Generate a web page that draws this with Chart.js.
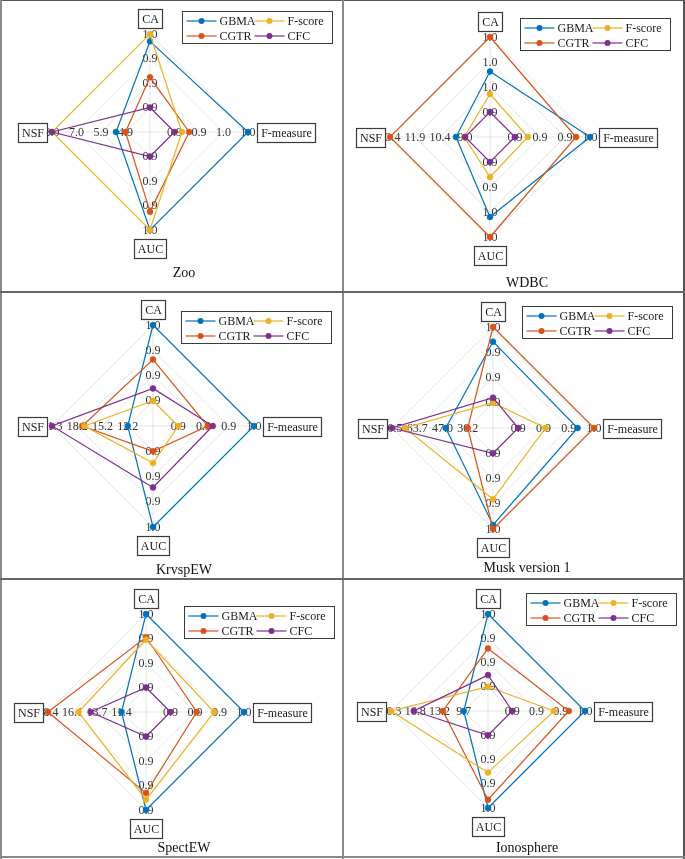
<!DOCTYPE html>
<html><head><meta charset="utf-8">
<script src="https://cdn.jsdelivr.net/npm/chart.js@4.4.1/dist/chart.umd.min.js"></script>
<style>
html,body{margin:0;padding:0;background:#fff;}
#fig{position:relative;width:685px;height:859px;overflow:hidden;background:#fff;}
.cell{position:absolute;}
.ln{position:absolute;z-index:5;}
</style></head><body>
<div id="fig"></div>
<script>
// ---------- data ----------
const categories = ['CA', 'F-measure', 'AUC', 'NSF'];
const methods = ['GBMA', 'CGTR', 'F-score', 'CFC'];
const methodColors = ['#0072BD', '#D95319', '#EDB120', '#7E2F8E'];
const panelTitles = ['Zoo', 'WDBC', 'KrvspEW', 'Musk version 1', 'SpectEW', 'Ionosphere'];

// values per method: [CA, F-measure, AUC, NSF]
const zooValues = [[0.961, 1.00, 0.96, 5.3], [0.917, 0.904, 0.9375, 4.9], [0.97, 0.892, 0.96, 8.0], [0.88, 0.88, 0.87, 8.0]];
const zooLimits = [[0.88, 0.97], [0.88, 1.00], [0.87, 0.96], [4.9, 8.0]];
const zooTicks = [['0.9', '0.9', '0.9', '1.0'], ['0.9', '0.9', '1.0', '1.0'], ['0.9', '0.9', '0.9', '1.0'], ['4.9', '5.9', '7.0', '8.0']];

const wdbcValues = [[0.967, 0.97, 0.966, 9.53], [0.99, 0.957, 0.99, 13.4], [0.952, 0.912, 0.918, 9.05], [0.94, 0.90, 0.90, 9.0]];
const wdbcLimits = [[0.94, 0.99], [0.90, 0.97], [0.90, 0.99], [9.0, 13.4]];
const wdbcTicks = [['0.9', '1.0', '1.0', '1.0'], ['0.9', '0.9', '0.9', '1.0'], ['0.9', '0.9', '1.0', '1.0'], ['9.0', '10.4', '11.9', '13.4']];

const krvspValues = [[0.97, 0.97, 0.97, 12.2], [0.929, 0.915, 0.88, 17.66], [0.88, 0.88, 0.894, 17.4], [0.8947, 0.921, 0.923, 21.3]];
const krvspLimits = [[0.88, 0.97], [0.88, 0.97], [0.88, 0.97], [12.2, 21.3]];
const krvspTicks = [['0.9', '0.9', '0.9', '1.0'], ['0.9', '0.9', '0.9', '1.0'], ['0.9', '0.9', '0.9', '1.0'], ['12.2', '15.2', '18.2', '21.3']];

const muskValues = [[0.9526, 0.9505, 0.9652, 44.8], [0.97, 0.97, 0.97, 30.2], [0.88, 0.9124, 0.9346, 71.95], [0.886, 0.88, 0.88, 80.5]];
const muskLimits = [[0.88, 0.97], [0.88, 0.97], [0.88, 0.97], [30.2, 80.5]];
const muskTicks = [['0.9', '0.9', '0.9', '1.0'], ['0.9', '0.9', '0.9', '1.0'], ['0.9', '0.9', '0.9', '1.0'], ['30.2', '47.0', '63.7', '80.5']];

const spectValues = [[0.97, 0.97, 0.94, 11.4], [0.9415, 0.9121, 0.9216, 18.4], [0.9385, 0.9334, 0.9288, 15.5], [0.88, 0.88, 0.86, 14.34]];
const spectLimits = [[0.88, 0.97], [0.88, 0.97], [0.86, 0.94], [11.4, 18.4]];
const spectTicks = [['0.9', '0.9', '0.9', '1.0'], ['0.9', '0.9', '0.9', '1.0'], ['0.9', '0.9', '0.9', '0.9'], ['11.4', '13.7', '16.1', '18.4']];

const ionoValues = [[0.97, 0.97, 0.97, 9.7], [0.9274, 0.9499, 0.9598, 12.74], [0.88, 0.9316, 0.9262, 20.3], [0.8944, 0.88, 0.88, 16.98]];
const ionoLimits = [[0.88, 0.97], [0.88, 0.97], [0.88, 0.97], [9.7, 20.3]];
const ionoTicks = [['0.9', '0.9', '0.9', '1.0'], ['0.9', '0.9', '0.9', '1.0'], ['0.9', '0.9', '0.9', '1.0'], ['9.7', '13.2', '16.8', '20.3']];

// ---------- layout (not data) ----------
const SERIF = '"Liberation Serif", "Times New Roman", serif';
const panels = [
  {values: zooValues, limits: zooLimits, ticks: zooTicks, cell: [0, 0, 343, 292], c: [150, 132], R: 98, legend: [182, 11], titleY: 273},
  {values: wdbcValues, limits: wdbcLimits, ticks: wdbcTicks, cell: [343, 0, 342, 292], c: [147, 137], R: 100, legend: [177, 18], titleY: 283},
  {values: krvspValues, limits: krvspLimits, ticks: krvspTicks, cell: [0, 292, 343, 287], c: [153, 134], R: 101, legend: [181, 19], titleY: 278},
  {values: muskValues, limits: muskLimits, ticks: muskTicks, cell: [343, 292, 342, 287], c: [150, 136], R: 101, legend: [179, 14], titleY: 276},
  {values: spectValues, limits: spectLimits, ticks: spectTicks, cell: [0, 579, 343, 280], c: [146, 133], R: 98, legend: [184, 27], titleY: 269},
  {values: ionoValues, limits: ionoLimits, ticks: ionoTicks, cell: [343, 579, 342, 280], c: [145, 132], R: 97, legend: [183, 14], titleY: 269}
];
const labelGaps = [6, 9, 9, 5];

function toLevel(v, lim) { return 1 + 3 * (v - lim[0]) / (lim[1] - lim[0]); }

function decorPlugin(p, title) {
  return {
    id: 'spiderDecor',
    beforeDatasetsDraw(chart) {
      const s = chart.scales.r, ctx = chart.ctx;
      ctx.save();
      ctx.font = '12px ' + SERIF;
      ctx.fillStyle = '#333';
      ctx.textAlign = 'center';
      ctx.textBaseline = 'middle';
      categories.forEach((c, ai) => {
        p.ticks[ai].forEach((t, k) => {
          const pos = s.getPointPosition(ai, s.getDistanceFromCenterForValue(k + 1));
          ctx.fillText(t, pos.x, pos.y + 0.5);
        });
      });
      ctx.restore();
    },
    afterDraw(chart) {
      const s = chart.scales.r, ctx = chart.ctx;
      const cx = s.xCenter, cy = s.yCenter, R = s.drawingArea;
      ctx.save();
      // axis label boxes
      ctx.font = '12px ' + SERIF;
      ctx.textAlign = 'center';
      ctx.textBaseline = 'middle';
      categories.forEach((c, ai) => {
        const pos = s.getPointPosition(ai, R + labelGaps[ai]);
        const w = Math.round(ctx.measureText(c).width + 7), h = 19;
        let x, y;
        const dx = pos.x - cx, dy = pos.y - cy;
        if (Math.abs(dx) < 1) { x = pos.x - w / 2; y = dy < 0 ? pos.y - h : pos.y; }
        else { y = pos.y - h / 2; x = dx > 0 ? pos.x : pos.x - w; }
        x = Math.round(x) + 0.5; y = Math.round(y) + 0.5;
        ctx.fillStyle = '#fff';
        ctx.fillRect(x, y, w, h);
        ctx.strokeStyle = '#3a3a3a';
        ctx.lineWidth = 1.2;
        ctx.strokeRect(x, y, w, h);
        ctx.fillStyle = '#1a1a1a';
        ctx.fillText(c, x + w / 2, y + h / 2 + 0.5);
      });
      // legend
      const lx = p.legend[0] + 0.5, ly = p.legend[1] + 0.5, lw = 150, lh = 32;
      ctx.fillStyle = '#fff';
      ctx.fillRect(lx, ly, lw, lh);
      ctx.strokeStyle = '#3a3a3a';
      ctx.lineWidth = 1;
      ctx.strokeRect(lx, ly, lw, lh);
      ctx.textAlign = 'left';
      methods.forEach((m, i) => {
        const col = Math.floor(i / 2), row = i % 2;
        const x0 = lx + 4 + col * 68, y = ly + 9.5 + row * 15;
        ctx.strokeStyle = methodColors[i];
        ctx.lineWidth = 1.2;
        ctx.beginPath(); ctx.moveTo(x0, y); ctx.lineTo(x0 + 30, y); ctx.stroke();
        ctx.fillStyle = methodColors[i];
        ctx.beginPath(); ctx.arc(x0 + 15, y, 3, 0, Math.PI * 2); ctx.fill();
        ctx.fillStyle = '#1a1a1a';
        ctx.fillText(m, x0 + 33, y + 0.5);
      });
      // title
      ctx.font = '14px ' + SERIF;
      ctx.textAlign = 'center';
      ctx.fillStyle = '#111';
      ctx.fillText(title, 184, p.titleY);
      ctx.restore();
    }
  };
}

const fig = document.getElementById('fig');
panels.forEach((p, pi) => {
  const [x, y, W, H] = p.cell;
  const div = document.createElement('div');
  div.className = 'cell';
  div.style.cssText = `left:${x}px;top:${y}px;width:${W}px;height:${H}px;`;
  const cv = document.createElement('canvas');
  cv.width = W; cv.height = H;
  cv.style.width = W + 'px'; cv.style.height = H + 'px';
  div.appendChild(cv);
  fig.appendChild(div);
  const [cx, cy] = p.c, R = p.R;
  new Chart(cv, {
    type: 'radar',
    data: {
      labels: categories,
      datasets: methods.map((m, mi) => ({
        label: m,
        data: p.values[mi].map((v, ai) => toLevel(v, p.limits[ai])),
        borderColor: methodColors[mi],
        backgroundColor: methodColors[mi],
        pointBackgroundColor: methodColors[mi],
        pointBorderColor: methodColors[mi],
        borderWidth: 1.2,
        pointRadius: 3,
        pointBorderWidth: 0.5,
        fill: false,
        tension: 0,
        order: 4 - mi
      }))
    },
    options: {
      responsive: false,
      animation: false,
      devicePixelRatio: 1,
      layout: {padding: {left: cx - R, right: W - cx - R, top: cy - R, bottom: H - cy - R}},
      plugins: {legend: {display: false}, title: {display: false}, tooltip: {enabled: false}},
      scales: {
        r: {
          min: 0, max: 4,
          ticks: {display: false, stepSize: 1},
          pointLabels: {display: false},
          grid: {color: 'rgba(0,0,0,0.1)', lineWidth: 1},
          angleLines: {color: 'rgba(0,0,0,0.1)', lineWidth: 1}
        }
      }
    },
    plugins: [decorPlugin(p, panelTitles[pi])]
  });
});

// panel borders
const lines = [
  [0, 0, 685, 1, '#555'], [0, 0, 2, 859, '#8a8a8a'], [683, 0, 2, 859, '#555'], [0, 856, 685, 2, '#8a8a8a'],
  [342, 0, 2, 859, '#8a8a8a'], [0, 291, 685, 2, '#666'], [0, 578, 685, 2, '#666']
];
lines.forEach(l => {
  const d = document.createElement('div');
  d.className = 'ln';
  d.style.cssText = `left:${l[0]}px;top:${l[1]}px;width:${l[2]}px;height:${l[3]}px;background:${l[4]};`;
  fig.appendChild(d);
});
</script>
</body></html>
